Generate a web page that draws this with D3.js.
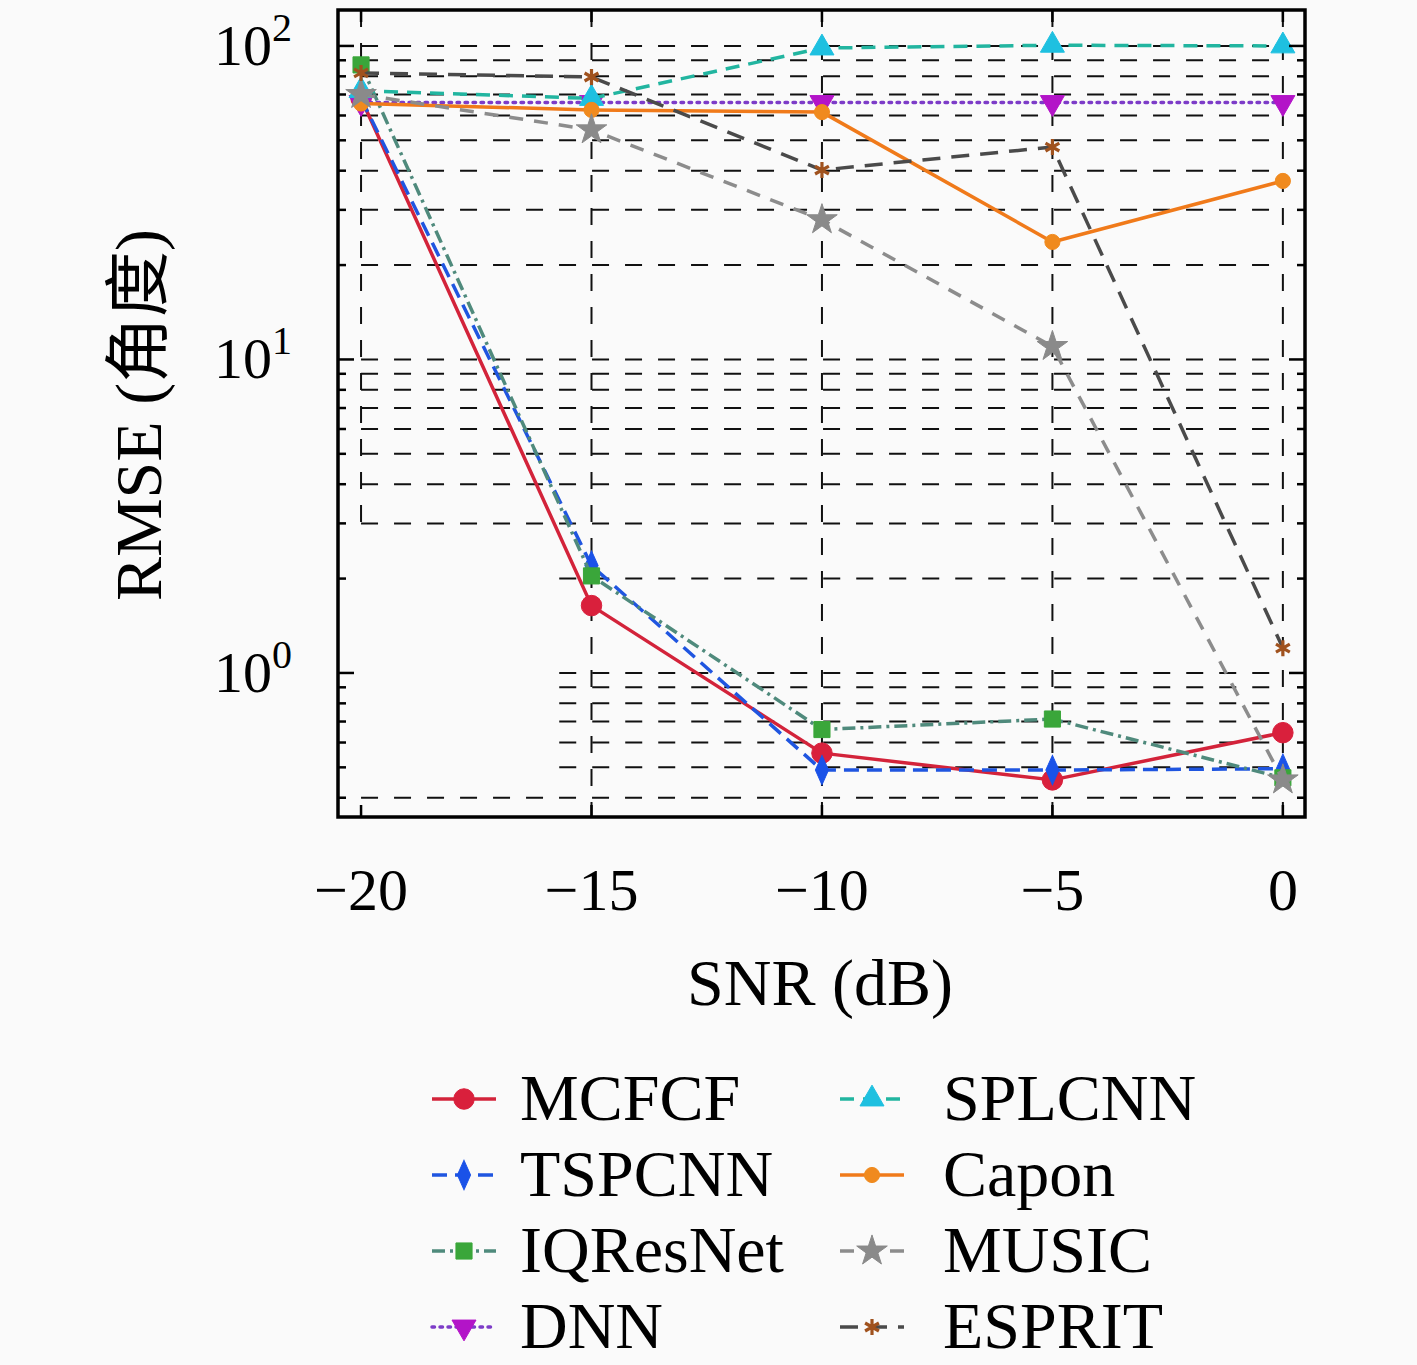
<!DOCTYPE html>
<html><head><meta charset="utf-8">
<script src="https://cdn.jsdelivr.net/npm/d3@7"></script>
<style>
html,body{margin:0;padding:0;background:#fafafa;}
svg{display:block;}
text{font-family:"Liberation Serif","Times New Roman",serif;fill:#000;}
</style></head>
<body><svg id="chart" width="1417" height="1365"></svg>
<script>
// ---- data ----
const snr = [-20, -15, -10, -5, 0];
const xTicks = [-20, -15, -10, -5, 0];
const xTickLabels = ["\u221220", "\u221215", "\u221210", "\u22125", "0"];
const yMajorTicks = [1, 10, 100];
const yExponents = ["0", "1", "2"];
const seriesNames = ["MCFCF", "TSPCNN", "IQResNet", "DNN", "SPLCNN", "Capon", "MUSIC", "ESPRIT"];
const mcfcf    = [68, 1.64, 0.555, 0.456, 0.645];
const tspcnn   = [68, 2.2, 0.49, 0.49, 0.495];
const iqresnet = [87, 2.04, 0.66, 0.713, 0.463];
const dnn      = [66, 66, 66, 66, 66];
const splcnn   = [72, 68, 98.5, 100.5, 100];
const capon    = [65.5, 62.5, 61.5, 23.7, 37.1];
const music    = [70, 54, 27.9, 11.0, 0.456];
const esprit   = [82, 79.6, 40.2, 47.6, 1.2];
const allSeries = [mcfcf, tspcnn, iqresnet, dnn, splcnn, capon, music, esprit];
// grid values (minor + major) of the log axis
const yGridValues = [0.4,0.5,0.6,0.7,0.8,0.9,1,2,3,4,5,6,7,8,9,10,20,30,40,50,60,70,80,90,100];
const yGridShort = [0.5,0.6,0.7,0.8,0.9,1,2];   // lines that begin later in the reference
const xLabel = "SNR (dB)";
const yLabel = "RMSE (角度)";

// ---- styles ----
const styles = [
  {line:"#d3233a", dash:null,          mark:"#d9203c", sym:"circle",   size:330},
  {line:"#1f55e0", dash:"15,8",        mark:"#1a52e8", sym:"diamond",  size:210},
  {line:"#4f8a7c", dash:"13,5,3,5",    mark:"#3aa63a", sym:"square",   size:260},
  {line:"#7d3cc8", dash:"2.5,5.5",     mark:"#b314c8", sym:"tridown",  size:250},
  {line:"#22b5a0", dash:"14,9",        mark:"#1ec0e0", sym:"triangle", size:250},
  {line:"#f07a1a", dash:null,          mark:"#f08a1e", sym:"circle",   size:180},
  {line:"#8c8c8c", dash:"14,11",       mark:"#8a8a8a", sym:"star",     size:290},
  {line:"#4a4a4a", dash:"18,11",       mark:"#a0521e", sym:"asterisk", size:180}
];

const svg = d3.select("#chart");
const L = 338, R = 1305, T = 10, B = 817;
const x = d3.scaleLinear().domain([-20.5, 0.48]).range([L, R]);
const y = d3.scaleLog().domain([0.3472, 130.2]).range([B, T]);

// ---- grid ----
const grid = svg.append("g").attr("stroke", "#111").attr("stroke-width", 2)
  .attr("stroke-dasharray", "17,16").attr("fill", "none");
yGridValues.forEach(v => {
  const x0 = yGridShort.includes(v) ? x(-15.7) : x(-20);
  grid.append("line").attr("x1", x0).attr("x2", x(0)).attr("y1", y(v)).attr("y2", y(v));
});
xTicks.forEach(t => {
  const yEnd = t === -20 ? y(3) : B;
  grid.append("line").attr("x1", x(t)).attr("x2", x(t)).attr("y1", T).attr("y2", yEnd);
});

// ---- series ----
function symbolFor(s, size) {
  const map = {circle:d3.symbolCircle, diamond:d3.symbolDiamond, square:d3.symbolSquare,
    triangle:d3.symbolTriangle, tridown:d3.symbolTriangle, star:d3.symbolStar,
    asterisk:(d3.symbolAsterisk || d3.symbolCross)};
  return d3.symbol().type(map[s]).size(size)();
}
function drawMarker(g, st, cx, cy) {
  const p = g.append("path").attr("d", symbolFor(st.sym, st.size));
  let tr = `translate(${cx},${cy})`;
  if (st.sym === "tridown") tr += " rotate(180)";
  if (st.sym === "diamond") tr += " scale(0.85,1.1)";
  p.attr("transform", tr);
  if (st.sym === "asterisk") p.attr("fill", "none").attr("stroke", st.mark).attr("stroke-width", 3.2);
  else p.attr("fill", st.mark).attr("stroke", st.mark).attr("stroke-width", 1);
}
const lineGen = d3.line().x((d, i) => x(snr[i])).y(d => y(d));
const plot = svg.append("g");
allSeries.forEach((vals, k) => {
  const st = styles[k];
  const g = plot.append("g");
  g.append("path").attr("d", lineGen(vals)).attr("fill", "none").attr("stroke", st.line)
    .attr("stroke-width", 3.5).attr("stroke-dasharray", st.dash).attr("stroke-linecap", st.dash === "2.5,5.5" ? "round" : "butt")
    .attr("stroke-linejoin", "round");
  vals.forEach((v, i) => drawMarker(g, st, x(snr[i]), y(v)));
});

// ---- frame & ticks ----
const ax = svg.append("g").attr("stroke", "#000");
xTicks.forEach(t => {
  ax.append("line").attr("x1", x(t)).attr("x2", x(t)).attr("y1", B).attr("y2", B - 12).attr("stroke-width", 2.5);
  ax.append("line").attr("x1", x(t)).attr("x2", x(t)).attr("y1", T).attr("y2", T + 12).attr("stroke-width", 2.5);
});
yGridValues.forEach(v => {
  const major = yMajorTicks.includes(v);
  const len = major ? 16 : 8;
  ax.append("line").attr("x1", L).attr("x2", L + len).attr("y1", y(v)).attr("y2", y(v)).attr("stroke-width", 2.5);
  ax.append("line").attr("x1", R).attr("x2", R - len).attr("y1", y(v)).attr("y2", y(v)).attr("stroke-width", 2.5);
});
svg.append("rect").attr("x", L).attr("y", T).attr("width", R - L).attr("height", B - T)
  .attr("fill", "none").attr("stroke", "#000").attr("stroke-width", 3.5);

// tick labels
xTicks.forEach((t, i) => {
  svg.append("text").attr("x", x(t)).attr("y", 910).attr("text-anchor", "middle")
    .attr("font-size", 60).text(xTickLabels[i]);
});
yMajorTicks.forEach((v, i) => {
  const t = svg.append("text").attr("x", 292).attr("y", y(v) + 19).attr("text-anchor", "end").attr("font-size", 58);
  t.append("tspan").text("10");
  t.append("tspan").attr("dy", -24).attr("font-size", 40).text(yExponents[i]);
});

// axis labels
svg.append("text").attr("x", 820).attr("y", 1005).attr("text-anchor", "middle").attr("font-size", 66).text(xLabel);
svg.append("text").attr("transform", "translate(161,415) rotate(-90)").attr("text-anchor", "middle")
  .attr("font-size", 66).style("font-family", '"Liberation Serif","Noto Sans CJK SC",serif').text(yLabel);

// ---- legend ----
const legend = svg.append("g");
seriesNames.forEach((name, k) => {
  const col = Math.floor(k / 4), row = k % 4;
  const x0 = col === 0 ? 432 : 840, cy = 1099 + row * 76;
  const st = styles[k];
  legend.append("line").attr("x1", x0).attr("x2", x0 + 64).attr("y1", cy).attr("y2", cy)
    .attr("stroke", st.line).attr("stroke-width", 3.5).attr("stroke-dasharray", st.dash)
    .attr("stroke-linecap", st.dash === "2.5,5.5" ? "round" : "butt");
  drawMarker(legend, st, x0 + 32, cy);
  legend.append("text").attr("x", col === 0 ? 520 : 943).attr("y", cy + 21).attr("font-size", 66).text(name);
});
</script></body></html>
